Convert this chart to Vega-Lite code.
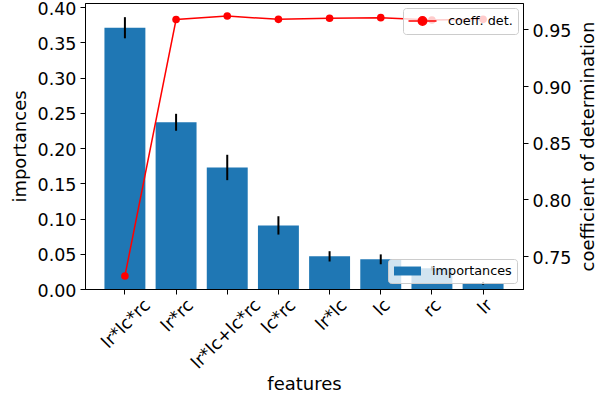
{
  "$schema": "https://vega.github.io/schema/vega-lite/v6.json",
  "width": 438,
  "height": 286,
  "autosize": {"type": "none"},
  "padding": {"left": 85, "top": 3, "right": 84, "bottom": 107},
  "background": "white",
  "config": {
    "font": "DejaVu Sans",
    "view": {"stroke": "black", "strokeWidth": 1},
    "axis": {
      "domainColor": "black", "tickColor": "black", "labelColor": "black", "titleColor": "black",
      "labelFont": "DejaVu Sans", "titleFont": "DejaVu Sans", "labelFontSize": 17.5, "titleFontSize": 18,
      "titleFontWeight": "normal", "tickSize": 5, "grid": false, "domainWidth": 1, "tickWidth": 1
    },
    "legend": {"labelFont": "DejaVu Sans", "labelFontSize": 12.8, "labelColor": "black"}
  },
  "data": {
    "values": [
      {"feature": "lr*lc*rc", "imp": 0.3706, "err": 0.015, "r2": 0.7325},
      {"feature": "lr*rc", "imp": 0.2365, "err": 0.012, "r2": 0.9586},
      {"feature": "lr*lc+lc*rc", "imp": 0.1724, "err": 0.018, "r2": 0.9617},
      {"feature": "lc*rc", "imp": 0.0902, "err": 0.013, "r2": 0.9588},
      {"feature": "lr*lc", "imp": 0.0463, "err": 0.0073, "r2": 0.9597},
      {"feature": "lc", "imp": 0.0421, "err": 0.007, "r2": 0.9603},
      {"feature": "rc", "imp": 0.0293, "err": 0.003, "r2": 0.9582},
      {"feature": "lr", "imp": 0.0081, "err": 0.002, "r2": 0.9588}
    ]
  },
  "encoding": {
    "x": {
      "field": "feature", "type": "nominal", "sort": null,
      "scale": {"paddingInner": 0.2, "paddingOuter": 0.38},
      "axis": {
        "title": "features", "labelAngle": -45, "labelAlign": "right", "labelBaseline": "top",
        "labelPadding": 2, "labelOverlap": false, "labelBound": false, "titlePadding": 4,
        "encoding": {"labels": {
          "dx": {"value": {"expr": "1.9*length(datum.label)-3.6"}},
          "dy": {"value": {"expr": "1.9*length(datum.label)-3.6"}}
        }}
      }
    }
  },
  "layer": [
    {
      "layer": [
        {
          "mark": {"type": "bar", "color": "#1f77b4"},
          "encoding": {
            "y": {
              "field": "imp", "type": "quantitative",
              "scale": {"domain": [0, 0.4057], "nice": false, "zero": true},
              "axis": {"orient": "left", "title": "importances", "values": [0, 0.05, 0.1, 0.15, 0.2, 0.25, 0.3, 0.35, 0.4], "format": ".2f", "labelPadding": 4, "titlePadding": 8, "encoding": {"labels": {"dy": {"value": 2}}}}
            },
            "fill": {
              "datum": "importances",
              "scale": {"range": ["#1f77b4"]},
              "legend": {
                "title": null, "orient": "bottom-right", "offset": 6, "padding": 5,
                "fillColor": "rgba(255,255,255,0.8)", "strokeColor": "#cccccc", "cornerRadius": 3,
                "symbolType": "M-1.93,-0.64H1.93V0.64H-1.93Z", "symbolSize": 196, "symbolStrokeWidth": 0,
                "symbolOpacity": 1, "symbolOffset": 7.5, "labelOffset": 17.5
              }
            }
          }
        },
        {
          "mark": {"type": "errorbar", "color": "black", "thickness": 2},
          "encoding": {
            "y": {
              "field": "imp", "type": "quantitative",
              "axis": {"orient": "left", "title": "importances", "values": [0, 0.05, 0.1, 0.15, 0.2, 0.25, 0.3, 0.35, 0.4], "format": ".2f", "labelPadding": 4, "titlePadding": 8, "encoding": {"labels": {"dy": {"value": 2}}}}
            },
            "yError": {"field": "err"}
          }
        }
      ]
    },
    {
      "layer": [
        {
          "mark": {"type": "line", "strokeWidth": 1.5},
          "encoding": {
            "y": {
              "field": "r2", "type": "quantitative",
              "scale": {"domain": [0.721, 0.9732], "nice": false, "zero": false},
              "axis": {"orient": "right", "title": "coefficient of determination", "values": [0.75, 0.8, 0.85, 0.9, 0.95], "format": ".2f", "labelPadding": 4, "titlePadding": 9, "titleAngle": 270, "titleBaseline": "top", "encoding": {"labels": {"dy": {"value": 2}}}}
            },
            "stroke": {
              "datum": "coeff. det.",
              "scale": {"range": ["#ff0000"]},
              "legend": {
                "title": null, "orient": "top-right", "offset": 5, "padding": 5,
                "fillColor": "rgba(255,255,255,0.8)", "strokeColor": "#cccccc", "cornerRadius": 3,
                "symbolType": "M-2,0H2M-0.6,0A0.6,0.6,0,1,1,0.6,0A0.6,0.6,0,1,1,-0.6,0Z",
                "symbolSize": 196, "symbolStrokeWidth": 1.5, "symbolFillColor": "#ff0000",
                "symbolStrokeColor": "#ff0000", "symbolOpacity": 1,
                "symbolOffset": 6.5, "labelOffset": 17.5
              }
            }
          }
        },
        {
          "mark": {"type": "circle", "size": 58, "color": "#ff0000", "opacity": 1},
          "encoding": {
            "y": {"field": "r2", "type": "quantitative"}
          }
        }
      ]
    }
  ],
  "resolve": {"scale": {"y": "independent"}}
}
